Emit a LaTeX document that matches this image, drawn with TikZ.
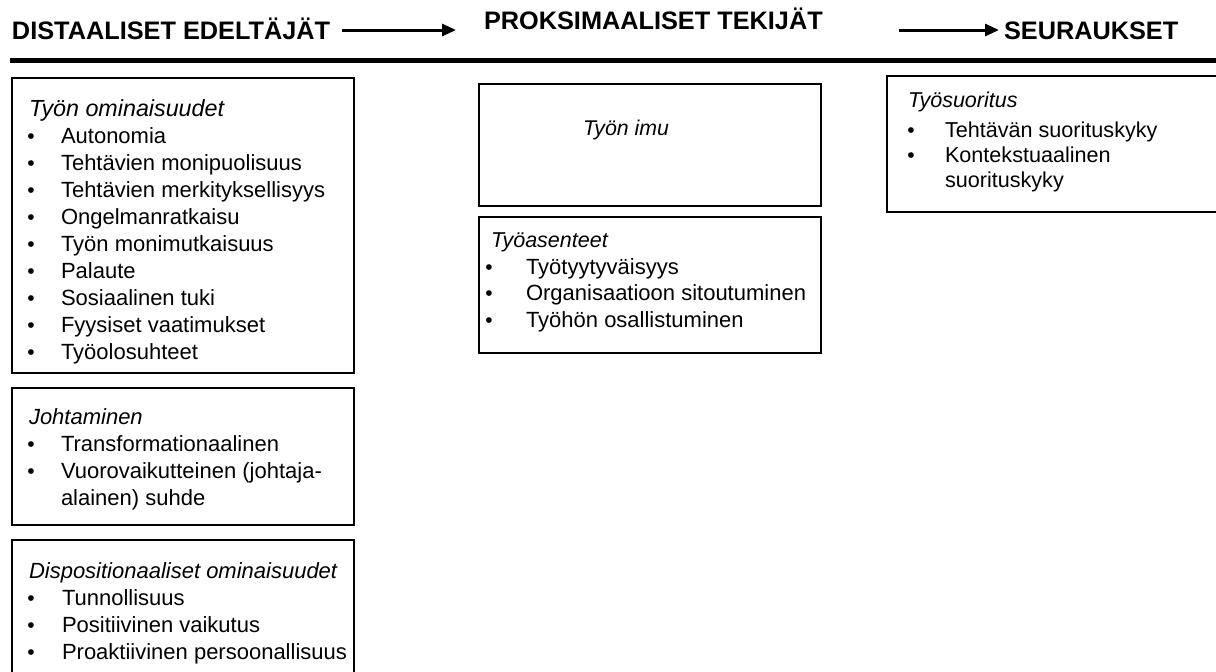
\documentclass[tikz,border=0pt]{standalone}
\usepackage{fontspec}
\setmainfont{Liberation Sans}
\usetikzlibrary{arrows.meta}
\tikzset{
  boxline/.style={draw=black, line width=1.6pt, fill=none, inner sep=0pt, outer sep=0pt, anchor=north west, rectangle},
  txt/.style={anchor=base west, inner sep=0pt, outer sep=0pt, font=\fontsize{22}{26}\selectfont},
  ttl/.style={txt, font=\fontsize{22}{26}\selectfont\itshape},
  bul/.style={anchor=base, inner sep=0pt, outer sep=0pt, font=\fontsize{21}{26}\selectfont},
  hdr/.style={anchor=base west, inner sep=0pt, outer sep=0pt, font=\fontsize{25.3}{30}\selectfont\bfseries},
  harrow/.style={line width=3pt, -{Triangle[length=14pt,width=12pt]}}
}
\begin{document}
\begin{tikzpicture}[x=1pt,y=-1pt]
\useasboundingbox[fill=white] (0,0) rectangle (1216,672);
% headers
\node[hdr] (h1) at (12,39) {DISTAALISET EDELTÄJÄT};
\node[hdr] (h2) at (484,29) {PROKSIMAALISET TEKIJÄT};
\node[hdr] (h3) at (1004,39) {SEURAUKSET};
\coordinate (a1s) at (342,30);
\coordinate (a1e) at (456,30);
\coordinate (a2s) at (899,30);
\coordinate (a2e) at (999,30);
\draw[harrow] (a1s) -- (a1e);
\draw[harrow] (a2s) -- (a2e);
% thick rule
\coordinate (r1) at (10,60);
\coordinate (r2) at (1230,60);
\draw[line width=5pt] (r1) -- (r2);
% Box 1
\node[boxline, minimum width=342pt, minimum height=295pt] (b1) at (12,78) {};
\node[ttl, font=\fontsize{23.3}{27}\selectfont\itshape] (b1t) at (29,116) {Työn ominaisuudet};
\foreach \i/\t in {0/Autonomia,1/Tehtävien monipuolisuus,2/Tehtävien merkityksellisyys,3/Ongelmanratkaisu,4/Työn monimutkaisuus,5/Palaute,6/Sosiaalinen tuki,7/Fyysiset vaatimukset,8/Työolosuhteet}{
  \node[bul] (b1b\i) at (31,143+27*\i) {•};
  \node[txt] (b1i\i) at (61,143+27*\i) {\t};
}
% Box 2
\node[boxline, minimum width=342pt, minimum height=137pt] (b2) at (12,388) {};
\node[ttl] (b2t) at (29,424) {Johtaminen};
\node[bul] (b2b0) at (31,451) {•};
\node[txt] (b2i0) at (61,451) {Transformationaalinen};
\node[bul] (b2b1) at (31,478) {•};
\node[txt] (b2i1) at (61,478) {Vuorovaikutteinen (johtaja-};
\node[txt] (b2i2) at (61,505) {alainen) suhde};
% Box 3
\node[boxline, minimum width=342pt, minimum height=160pt] (b3) at (12,540) {};
\node[ttl] (b3t) at (29,578) {Dispositionaaliset ominaisuudet};
\foreach \i/\t in {0/Tunnollisuus,1/Positiivinen vaikutus,2/Proaktiivinen persoonallisuus}{
  \node[bul] (b3b\i) at (31,605+27.3*\i) {•};
  \node[txt] (b3i\i) at (62,605+27.3*\i) {\t};
}
% Middle boxes
\node[boxline, minimum width=342pt, minimum height=122pt] (m1) at (479,84) {};
\node[ttl, font=\fontsize{21.3}{25}\selectfont\itshape] (m1t) at (583,135) {Työn imu};
\node[boxline, minimum width=342pt, minimum height=136pt] (m2) at (479,217) {};
\node[ttl, font=\fontsize{21.5}{25}\selectfont\itshape] (m2t) at (491,247) {Työasenteet};
\foreach \i/\t in {0/Työtyytyväisyys,1/Organisaatioon sitoutuminen,2/Työhön osallistuminen}{
  \node[bul] (m2b\i) at (489,274+26.7*\i) {•};
  \node[txt] (m2i\i) at (526,274+26.7*\i) {\t};
}
% Right box
\node[boxline, minimum width=345pt, minimum height=136pt] (r) at (887,76) {};
\node[ttl, font=\fontsize{21.5}{25}\selectfont\itshape] (rt) at (908,107) {Työsuoritus};
\node[bul] (rb0) at (911,137) {•};
\node[txt, font=\fontsize{21.6}{25}\selectfont] (ri0) at (945,137) {Tehtävän suorituskyky};
\node[bul] (rb1) at (911,162) {•};
\node[txt, font=\fontsize{21.6}{25}\selectfont] (ri1) at (945,162) {Kontekstuaalinen};
\node[txt, font=\fontsize{21.6}{25}\selectfont] (ri2) at (945,187) {suorituskyky};
\end{tikzpicture}
\end{document}
